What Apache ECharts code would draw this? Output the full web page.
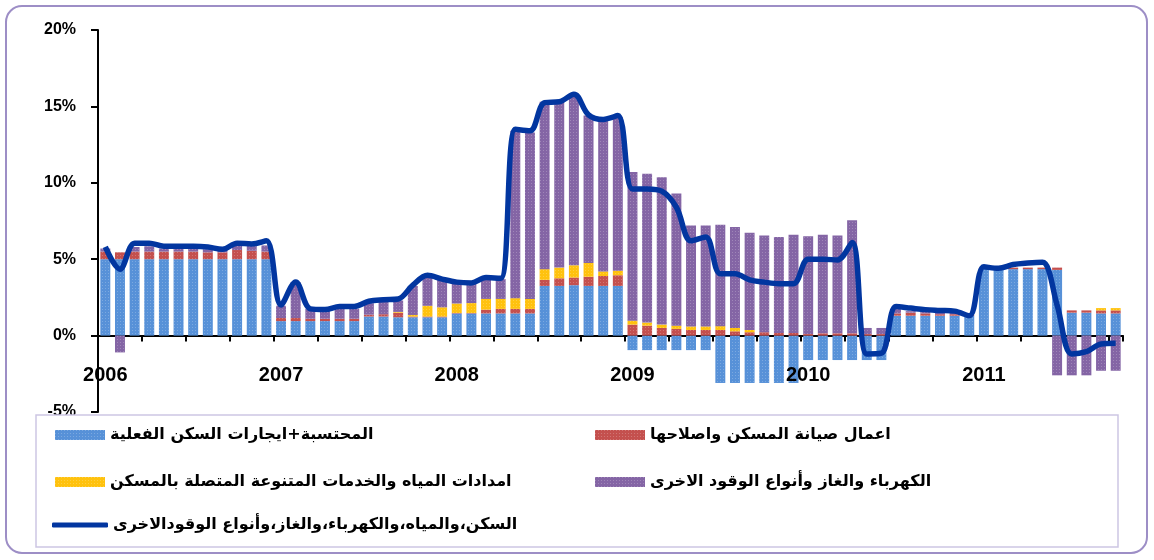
<!DOCTYPE html>
<html>
<head>
<meta charset="utf-8">
<script src="https://cdn.jsdelivr.net/npm/echarts@6/dist/echarts.min.js"></script>
<style>
html, body { margin: 0; padding: 0; background: #fff; }
#chart { width: 1154px; height: 560px; }
</style>
</head>
<body>
<div id="chart"></div>
<script>
// السنوات (الشهر الاول من كل سنة يحمل اسم السنة)
var years = ['2006', '2007', '2008', '2009', '2010', '2011'];
var lastYearMonths = 10; // البيانات تنتهي في أكتوبر 2011

// المحتسبة+ايجارات السكن الفعلية
var rent = [
    5.0, 5.0, 5.0, 5.0, 5.0, 5.0, 5.0, 5.0, 5.0, 5.0, 5.0, 5.0,
    0.95, 0.95, 0.95, 0.95, 0.95, 0.95, 1.25, 1.25, 1.2, 1.2, 1.2, 1.2,
    1.45, 1.45, 1.45, 1.45, 1.45, 1.45, 3.25, 3.25, 3.3, 3.25, 3.25, 3.25,
    -0.95, -0.95, -0.95, -0.95, -0.95, -0.95, -3.1, -3.1, -3.1, -3.1, -3.1, -3.1,
    -1.6, -1.6, -1.6, -1.6, -1.6, -1.6, 1.3, 1.3, 1.3, 1.3, 1.3, 1.3,
    4.4, 4.3, 4.35, 4.35, 4.35, 4.3, 1.5, 1.5, 1.45, 1.45
];
// اعمال صيانة المسكن واصلاحها
var repair = [
    0.5, 0.45, 0.5, 0.5, 0.5, 0.5, 0.5, 0.45, 0.45, 0.6, 0.55, 0.5,
    0.2, 0.2, 0.15, 0.15, 0.15, 0.15, 0.12, 0.15, 0.3, 0.05, 0.05, 0.05,
    0.03, 0.03, 0.25, 0.3, 0.3, 0.3, 0.4, 0.5, 0.5, 0.6, 0.65, 0.7,
    0.72, 0.65, 0.5, 0.44, 0.37, 0.37, 0.37, 0.28, 0.22, 0.22, 0.17, 0.17,
    0.1, 0.15, 0.15, 0.15, 0.1, 0.1, 0.15, 0.2, 0.15, 0.1, 0.1, 0.05,
    0.05, 0.05, 0.1, 0.1, 0.1, 0.15, 0.15, 0.15, 0.2, 0.2
];
// امدادات المياه والخدمات المتنوعة المتصلة بالمسكن
var water = [
    0, 0, 0, 0, 0, 0, 0, 0, 0, 0, 0, 0,
    0, 0, 0, 0, 0, 0, 0, 0, 0.05, 0.1, 0.7, 0.6,
    0.62, 0.65, 0.7, 0.65, 0.7, 0.65, 0.7, 0.7, 0.8, 0.9, 0.3, 0.3,
    0.26, 0.2, 0.22, 0.21, 0.23, 0.23, 0.25, 0.22, 0.15, 0, 0, 0,
    0, 0, 0, 0, 0, 0, 0, 0, 0, 0, 0, 0,
    0, 0, 0, 0, 0, 0, 0, 0, 0.15, 0.15
];
// الكهرباء والغاز وأنواع الوقود الاخرى
var fuel = [
    0.2, -1.1, 0.3, 0.35, 0.2, 0.2, 0.2, 0.2, 0.15, 0.3, 0.35, 0.4,
    0.8, 2.35, 0.65, 0.55, 0.65, 0.65, 0.75, 0.8, 0.75, 1.9, 2.05, 1.85,
    1.35, 1.27, 1.3, 1.3, 10.95, 10.9, 10.95, 10.85, 11.25, 9.65, 9.9, 10.05,
    9.72, 9.75, 9.65, 8.65, 6.6, 6.6, 6.63, 6.6, 6.36, 6.33, 6.28, 6.43,
    6.4, 6.45, 6.4, 7.4, 0.4, 0.4, 0.3, 0.1, 0.1, 0.1, 0.1, 0,
    0, 0, 0, 0, 0, -2.6, -2.6, -2.6, -2.3, -2.3
];
// السكن،والمياه،والكهرباء،والغاز،وأنواع الوقودالاخرى
var total = [
    5.8, 4.35, 6.05, 6.05, 5.85, 5.85, 5.85, 5.8, 5.65, 6.05, 6.0, 6.2,
    2.0, 3.5, 1.75, 1.7, 1.9, 1.9, 2.25, 2.35, 2.4, 3.3, 3.95, 3.7,
    3.5, 3.45, 3.8, 3.75, 13.5, 13.4, 15.25, 15.3, 15.8, 14.45, 14.15, 14.4,
    9.6, 9.6, 9.45, 8.4, 6.2, 6.45, 4.05, 4.05, 3.65, 3.5, 3.4, 3.4,
    5.0, 5.0, 4.95, 6.1, -1.2, -1.15, 1.9, 1.8, 1.7, 1.65, 1.6, 1.3,
    4.5, 4.4, 4.65, 4.75, 4.8, 2.0, -1.2, -1.05, -0.55, -0.5
];
var yTicks = [-5, 0, 5, 10, 15, 20];

var names = [
    'المحتسبة+ايجارات السكن الفعلية',
    'اعمال صيانة المسكن واصلاحها',
    'امدادات المياه والخدمات المتنوعة المتصلة بالمسكن',
    'الكهرباء والغاز وأنواع الوقود الاخرى',
    'السكن،والمياه،والكهرباء،والغاز،وأنواع الوقودالاخرى'
];

var months = [];
for (var i = 0; i < years.length; i++) {
    var n = (i == years.length - 1) ? lastYearMonths : 12;
    for (var m = 1; m <= n; m++) {
        months.push(years[i] + '-' + (m < 10 ? '0' + m : m));
    }
}

function monthOf(v) {
    var s = (typeof v === 'number') ? months[v] : String(v);
    return s || '';
}

var font = '"Liberation Sans", Arial, sans-serif';
var arFont = '"DejaVu Sans", "Liberation Sans", sans-serif';
var dots = {
    symbol: 'rect',
    symbolSize: 1,
    dashArrayX: [1, 2],
    dashArrayY: [1, 2],
    color: 'rgba(255,255,255,0.22)'
};

function legendAt(name, left, top, icon, w, h) {
    return {
        data: [name],
        left: left,
        top: top,
        padding: 0,
        z: 20,
        icon: icon,
        itemWidth: w,
        itemHeight: h,
        itemGap: 0,
        selectedMode: false,
        textStyle: {
            fontFamily: arFont,
            fontWeight: 'bold',
            fontSize: 16,
            lineHeight: 20,
            color: '#000'
        }
    };
}

function barSeries(name, data, color) {
    return {
        name: name,
        type: 'bar',
        stack: 'housing',
        barCategoryGap: '32%',
        data: data,
        itemStyle: { color: color, decal: dots },
        emphasis: { disabled: true }
    };
}

var myChart = echarts.init(document.getElementById('chart'));
var option = {
    animation: false,
    backgroundColor: '#fff',
    grid: { left: 98, right: 31, top: 30, bottom: 148 },
    legend: [
        legendAt(names[0], 55, 425, 'rect', 50, 10),
        legendAt(names[1], 595, 425, 'rect', 50, 10),
        legendAt(names[2], 55, 472, 'rect', 50, 10),
        legendAt(names[3], 595, 472, 'rect', 50, 10),
        legendAt(names[4], 52, 515, 'roundRect', 56, 5)
    ],
    graphic: [{
        type: 'rect',
        z: 10,
        shape: { x: 36, y: 415, width: 1082, height: 132 },
        style: { fill: '#fff', stroke: '#cdc6e3', lineWidth: 1.5 }
    }, {
        type: 'rect',
        z: 10,
        shape: { x: 6, y: 6, width: 1141, height: 547, r: 16 },
        style: { fill: 'none', stroke: '#9d8ec6', lineWidth: 2 }
    }],
    xAxis: [{
        // المحور عند الصفر: الخط والعلامات فقط
        type: 'category',
        data: months,
        axisLine: { onZero: true, lineStyle: { color: '#000', width: 2 } },
        axisTick: {
            show: true,
            interval: 2,
            length: 6,
            lineStyle: { color: '#000', width: 2 }
        },
        axisLabel: { show: false },
        splitLine: { show: false }
    }, {
        // تسميات السنوات
        type: 'category',
        data: months,
        position: 'bottom',
        z: 8,
        axisLine: { show: false, onZero: false },
        axisTick: { show: false },
        splitLine: { show: false },
        axisLabel: {
            show: true,
            interval: 0,
            margin: -47,
            fontFamily: font,
            fontWeight: 'bold',
            fontSize: 20,
            color: '#000',
            formatter: function (v) {
                var s = monthOf(v);
                return s.slice(5) == '01' ? s.slice(0, 4) : '';
            }
        }
    }],
    yAxis: {
        type: 'value',
        min: yTicks[0],
        max: yTicks[yTicks.length - 1],
        interval: 5,
        axisLine: { show: true, lineStyle: { color: '#000', width: 2 } },
        axisTick: { show: true, length: 7, lineStyle: { color: '#000', width: 2 } },
        axisLabel: {
            margin: 22,
            fontFamily: font,
            fontWeight: 'bold',
            fontSize: 16,
            color: '#000',
            formatter: function (v) { return v + '%'; }
        },
        splitLine: { show: false }
    },
    series: [
        barSeries(names[0], rent, '#5791d8'),
        barSeries(names[1], repair, '#c4504e'),
        barSeries(names[2], water, '#ffc20e'),
        barSeries(names[3], fuel, '#8465a5'),
        {
            name: names[4],
            type: 'line',
            data: total,
            smooth: 0.35,
            symbol: 'none',
            z: 5,
            lineStyle: { color: '#0236a0', width: 5.5 },
            itemStyle: { color: '#0236a0' },
            emphasis: { disabled: true }
        }
    ]
};
myChart.setOption(option);
</script>
</body>
</html>
